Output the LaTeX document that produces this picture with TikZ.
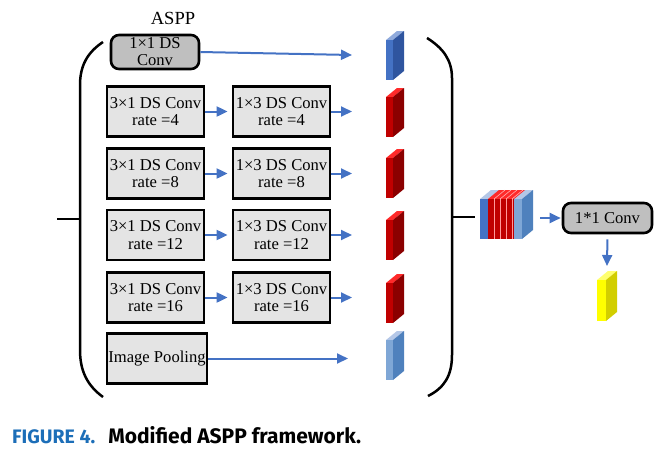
\documentclass[tikz,border=0pt]{standalone}
\usepackage{fontspec}
\setmainfont{Liberation Serif}
\newfontfamily\capfont{Fira Sans}
\usetikzlibrary{arrows.meta}
\definecolor{arrblue}{HTML}{4472C4}
\definecolor{boxgray}{HTML}{E4E4E4}
\definecolor{midgray}{HTML}{BFBFBF}
\definecolor{capblue}{HTML}{1C6EB8}
\definecolor{bfront}{HTML}{4472C4}
\definecolor{bside}{HTML}{2F559F}
\definecolor{btop}{HTML}{8FAADC}
\definecolor{rfront}{HTML}{C00000}
\definecolor{rside}{HTML}{8B0000}
\definecolor{rtop}{HTML}{FF2A2A}
\definecolor{lfront}{HTML}{7FA7D6}
\definecolor{lside}{HTML}{4F81BD}
\definecolor{ltop}{HTML}{B4C7E7}
\definecolor{yfront}{HTML}{FFFF00}
\definecolor{yside}{HTML}{D2CE00}
\definecolor{ytop}{HTML}{FFFF70}
% \mycube{x}{y}{w}{h}{front}{side}{top}
\newcommand\mycube[7]{%
  \fill[#7] (#1,#2) -- ++(11,-9) -- ++(#3,0) -- (#1+#3,#2) -- cycle;
  \fill[#6] (#1+#3,#2) -- ++(11,-9) -- ++(0,#4) -- (#1+#3,#2+#4) -- cycle;
  \fill[#5] (#1,#2) rectangle ++(#3,#4);
}
\begin{document}
\begin{tikzpicture}[x=1pt,y=-1pt,
  conv/.style={draw=black, line width=2.8pt, fill=boxgray, minimum width=97pt,
    minimum height=50pt, inner sep=0pt, align=center, font=\fontsize{16.6}{17.5}\selectfont},
  rconv/.style={draw=black, line width=2.6pt, fill=midgray, rounded corners=8pt,
    inner sep=0pt, align=center, font=\fontsize{16.6}{17}\selectfont},
  arr/.style={-{Triangle[length=11pt,width=10pt]}, draw=arrblue, line width=2pt},
  brk/.style={draw=black, line width=2.5pt}]
\useasboundingbox (0,0) rectangle (665,459);

\node[font=\fontsize{18.5}{18.5}\selectfont] (aspp) at (173,18) {ASPP};

\node[rconv, minimum width=88pt, minimum height=34pt] (b11) at (155,52) {1×1 DS\\Conv};

\node[conv] (r1a) at (155.5,111.5) {3×1 DS Conv\\rate =4};
\node[conv] (r1b) at (281.5,111.5) {1×3 DS Conv\\rate =4};
\node[conv] (r2a) at (155.5,173.5) {3×1 DS Conv\\rate =8};
\node[conv] (r2b) at (281.5,173.5) {1×3 DS Conv\\rate =8};
\node[conv] (r3a) at (155.5,235) {3×1 DS Conv\\rate =12};
\node[conv] (r3b) at (281.5,235) {1×3 DS Conv\\rate =12};
\node[conv] (r4a) at (155.5,297.5) {3×1 DS Conv\\rate =16};
\node[conv] (r4b) at (281.5,297.5) {1×3 DS Conv\\rate =16};
\node[conv, minimum width=100pt] (pool) at (157,358.5) {Image Pooling};

% free ends
\coordinate (e0) at (352,55);
\coordinate (e1) at (352,111.5);
\coordinate (e2) at (352,173.5);
\coordinate (e3) at (352,235);
\coordinate (e4) at (352,297.5);
\coordinate (e5) at (348,358.5);

\draw[arr] (b11.east) -- (e0);
\foreach \r in {1,2,3,4}{
  \draw[arr, shorten >=4pt] (r\r a.east) -- (r\r b.west);
  \draw[arr] (r\r b.east) -- (e\r);
}
\draw[arr] (pool.east) -- (e5);

% feature maps
\mycube{386}{40}{7}{40}{bfront}{bside}{btop}
\mycube{386}{97}{7}{40}{rfront}{rside}{rtop}
\mycube{386}{158}{7}{40}{rfront}{rside}{rtop}
\mycube{386}{220}{7}{40}{rfront}{rside}{rtop}
\mycube{386}{283}{7}{40}{rfront}{rside}{rtop}
\mycube{386}{340}{7}{40}{lfront}{lside}{ltop}

% brackets
\draw[brk] (103,42) .. controls (88,52) and (80,65) .. (80,85) -- (80,350)
  .. controls (80,372) and (88,386) .. (103,397);
\draw[brk] (427,38) .. controls (443,48) and (452,60) .. (452,78) -- (452,355)
  .. controls (452,376) and (444,388) .. (428,396);
\coordinate (lt) at (57,219);
\coordinate (rt) at (475,217);
\draw[brk] (lt) -- (80,219);
\draw[brk] (452,217) -- (rt);

% concatenated block
\fill[ltop] (480,199) -- ++(11,-9) -- ++(42,0) -- (522,199) -- cycle;
\fill[rtop] (488,199) -- ++(11,-9) -- ++(26,0) -- (514,199) -- cycle;
\fill[lside] (522,199) -- ++(11,-9) -- ++(0,40) -- (522,239) -- cycle;
\fill[bfront] (480,199) rectangle (488,239);
\fill[rfront] (488,199) rectangle (514,239);
\fill[lfront] (514,199) rectangle (522,239);
\foreach \s in {494,500,506,512}{
  \draw[white!60!red, line width=0.6pt] (\s,199) -- (\s,239);
  \draw[white!70!red, line width=0.6pt] (\s,199) -- ++(11,-9);
}
\node[inner sep=0pt, minimum width=53pt, minimum height=49pt] (cat) at (506.5,214.5) {};

\node[rconv, minimum width=89pt, minimum height=30pt] (c11) at (607.5,218) {1*1 Conv};
\coordinate (cs) at (540,218);
\draw[arr, shorten >=1pt] (cs) -- (c11.west);
\coordinate (ye) at (607,266);
\draw[arr, shorten <=5pt] (c11.south) -- (ye);

\mycube{597}{280}{9}{41}{yfront}{yside}{ytop}

% caption
\node[anchor=base west, inner sep=0pt, font=\capfont\bfseries] (cap) at (12,443)
  {\textcolor{capblue}{\fontsize{19.5}{20}\selectfont FIGURE 4.}\hspace{13pt}{\fontsize{21}{21}\selectfont Modified ASPP framework.}};
\end{tikzpicture}
\end{document}
